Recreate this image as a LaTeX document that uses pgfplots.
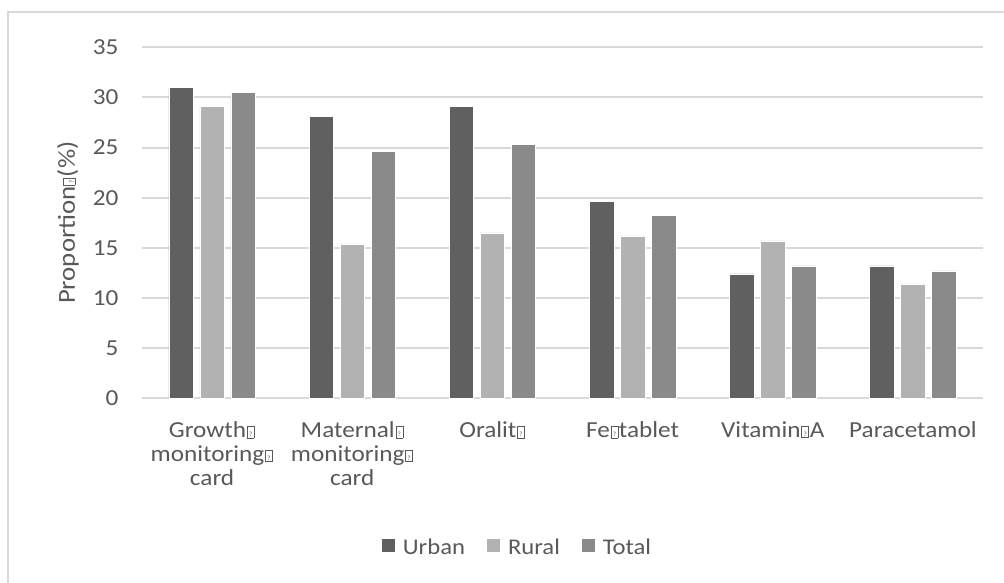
\documentclass[border=0pt]{standalone}
\usepackage{pgfplots}
\pgfplotsset{compat=1.18}
\usepackage{fontspec}
\setmainfont{Carlito}[FakeStretch=1.1]
\definecolor{urban}{HTML}{606060}
\definecolor{rural}{HTML}{B2B2B2}
\definecolor{total}{HTML}{8A8A8A}
\definecolor{gridc}{HTML}{D9D9D9}
\definecolor{txt}{HTML}{595959}
\newcommand{\qb}{\kern0.8bp\raisebox{1bp}{\setlength{\fboxsep}{0.8bp}\setlength{\fboxrule}{0.5bp}\framebox[7.5bp]{\rule{0pt}{9.5bp}\fontsize{6.5}{6.5}\selectfont ?}}\kern0.8bp}
\pgfplotstableread{
x urban rural total
0 31.0 29.1 30.5
1 28.1 15.4 24.6
2 29.1 16.5 25.3
3 19.6 16.2 18.2
4 12.4 15.7 13.2
5 13.2 11.4 12.7
}\datatable
\begin{document}
\begin{tikzpicture}[x=1bp,y=1bp]
\useasboundingbox (0,0) rectangle (1004,583);
\fill[white] (0,0) rectangle (1004,583);
\draw[gridc, line width=2bp] (8,-5) -- (8,571) -- (1010,571);
\begin{axis}[
  at={(142bp,184.7bp)}, anchor=south west,
  scale only axis, width=841bp, height=351bp,
  ybar=6.5bp, bar width=24.5bp,
  xmin=-0.5, xmax=5.5, ymin=0, ymax=35,
  xtick={0,...,5},
  xticklabels={{Growth\qb\\monitoring\qb\\card},{Maternal\qb\\monitoring\qb\\card},{Oralit\qb},{Fe\qb tablet},{Vitamin\qb A},{Paracetamol}},
  ytick={0,5,...,35},
  /pgf/number format/assume math mode=true,
  ymajorgrids, grid style={gridc, line width=2bp},
  axis line style={draw=none},
  major tick length=0pt,
  tick label style={font=\fontsize{23}{24}\selectfont, text=txt},
  yticklabel style={anchor=east, xshift=-20bp},
  xticklabel style={align=center, anchor=north, yshift=-20bp},
  ylabel={Proportion\qb(\%)},
  ylabel style={at={(axis description cs:-0.088,0.5)}, anchor=center, rotate=0, font=\fontsize{24.5}{26}\selectfont, text=txt},
  legend style={at={(axis description cs:0.4465,-0.4236)}, anchor=center, draw=none, fill=none,
     legend columns=3, font=\fontsize{22.5}{24}\selectfont, text=txt,
     /tikz/every odd column/.append style={column sep=6bp},
     /tikz/every even column/.append style={column sep=20bp},
     inner sep=0pt},
  legend image code/.code={\fill[#1, draw=none] (0bp,-5bp) rectangle (13bp,8bp);},
]
\addplot[fill=urban, draw=white, line width=0.6bp] table[x=x,y=urban]{\datatable};
\addplot[fill=rural, draw=white, line width=0.6bp] table[x=x,y=rural]{\datatable};
\addplot[fill=total, draw=white, line width=0.6bp] table[x=x,y=total]{\datatable};
\legend{Urban,Rural,Total}
\end{axis}
\end{tikzpicture}
\end{document}
